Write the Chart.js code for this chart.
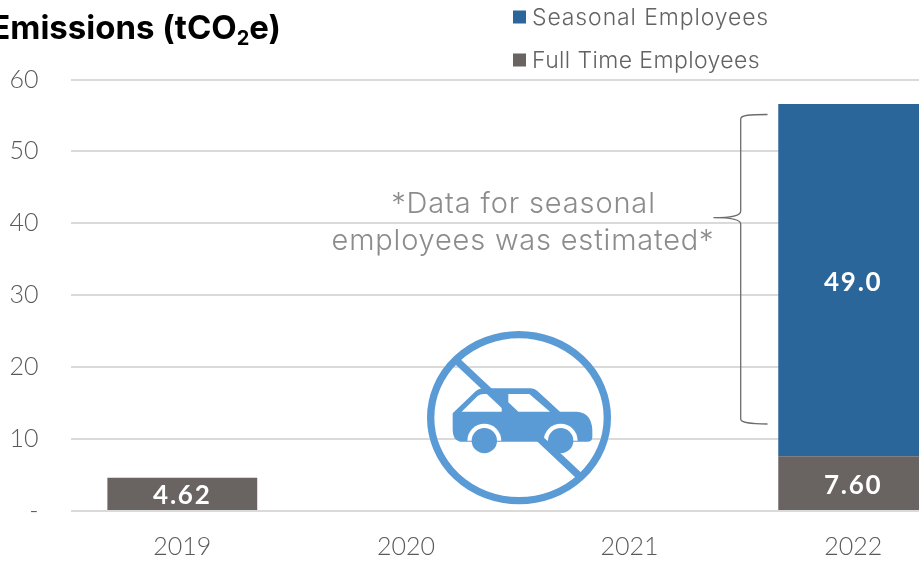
<!DOCTYPE html>
<html>
<head>
<meta charset="utf-8">
<script src="https://cdn.jsdelivr.net/npm/chart.js@4"></script>
<style>
  html, body { margin: 0; padding: 0; width: 919px; height: 562px; overflow: hidden; background: #fff; }
  canvas { display: block; }
</style>
</head>
<body>
<canvas id="chart" width="965" height="562"></canvas>
<script>
const categories = ['2019', '2020', '2021', '2022'];
const fullTimeEmployees = [4.62, null, null, 7.60];
const seasonalEmployees = [null, null, null, 49.0];
const fullTimeLabels = ['4.62', '', '', '7.60'];
const seasonalLabels = ['', '', '', '49.0'];
const yTickValues = [0, 10, 20, 30, 40, 50, 60];

const FONT = 'Lato, "Open Sans", sans-serif';
const WIDE = 'Inter, Lato, sans-serif';
const BLUE = '#2A6699';
const GREY = '#696362';
const ICON = '#5B9BD5';
const TEXT = '#595959';

function spacedText(ctx, str, x, y, font, color, spacing, align) {
  ctx.save();
  ctx.font = font;
  ctx.fillStyle = color;
  ctx.letterSpacing = (spacing || 0) + 'px';
  ctx.textAlign = align || 'left';
  ctx.textBaseline = 'middle';
  ctx.fillText(str, x, y);
  ctx.restore();
}

// Heading, cut off by the left page edge, with a lowered "2" in the unit.
function drawHeading(ctx) {
  const bold = '700 33px ' + WIDE;
  const sub = '700 20px ' + WIDE;
  const endX = 281;
  ctx.save();
  ctx.font = bold;
  const tail = ctx.measureText('e)').width;
  const head = ctx.measureText('Emissions (tCO').width;
  ctx.font = sub;
  const two = ctx.measureText('2').width;
  ctx.restore();
  const x3 = endX - tail, x2 = x3 - two, x1 = x2 - head;
  spacedText(ctx, 'Emissions (tCO', x1, 29, bold, '#000');
  spacedText(ctx, '2', x2, 39, sub, '#000');
  spacedText(ctx, 'e)', x3, 29, bold, '#000');
}

function drawLegend(chart) {
  const ctx = chart.ctx;
  const rows = [[0, 17, 0.88], [1, 60, 0.4]];
  const order = [chart.data.datasets[1], chart.data.datasets[0]];
  rows.forEach(([i, y, spacing]) => {
    ctx.fillStyle = order[i].backgroundColor;
    ctx.fillRect(513, y - 6.5, 13, 13);
    spacedText(ctx, order[i].label, 532, y + 1, '300 23px ' + WIDE, '#636363', spacing);
  });
}

function drawBrace(ctx) {
  ctx.save();
  ctx.strokeStyle = '#6E6B6B';
  ctx.lineWidth = 1.3;
  ctx.beginPath();
  ctx.moveTo(767.5, 114.5);
  ctx.bezierCurveTo(750, 114.5, 740.7, 115, 740.7, 119);
  ctx.lineTo(740.7, 211);
  ctx.bezierCurveTo(740.7, 216, 732, 217.7, 713.5, 217.7);
  ctx.bezierCurveTo(732, 217.7, 740.7, 219.5, 740.7, 224);
  ctx.lineTo(740.7, 419);
  ctx.bezierCurveTo(740.7, 423, 750, 423.8, 767.5, 424);
  ctx.stroke();
  ctx.restore();
}

// No-car pictogram; coordinates are local to its 220x200 box.
function drawNoCar(ctx) {
  ctx.save();
  ctx.translate(410, 320);
  ctx.scale(1 / 3, 1 / 3);
  ctx.fillStyle = ICON;
  ctx.strokeStyle = ICON;

  ctx.beginPath();
  ctx.moveTo(128, 280);
  ctx.lineTo(192, 218);
  ctx.quadraticCurveTo(205, 205, 222, 205);
  ctx.lineTo(360, 205);
  ctx.quadraticCurveTo(375, 205, 388, 218);
  ctx.lineTo(450, 275);
  ctx.lineTo(500, 275);
  ctx.quadraticCurveTo(545, 278, 547, 330);
  ctx.lineTo(547, 350);
  ctx.quadraticCurveTo(547, 365, 532, 365);
  ctx.lineTo(150, 365);
  ctx.quadraticCurveTo(128, 360, 128, 330);
  ctx.closePath();
  ctx.fill();

  ctx.fillStyle = '#fff';
  ctx.beginPath();
  ctx.moveTo(155, 275);
  ctx.lineTo(203, 228);
  ctx.quadraticCurveTo(210, 222, 222, 222);
  ctx.lineTo(240, 222);
  ctx.lineTo(275, 255);
  ctx.lineTo(275, 275);
  ctx.closePath();
  ctx.fill();
  ctx.beginPath();
  ctx.moveTo(295, 222);
  ctx.lineTo(358, 222);
  ctx.lineTo(420, 275);
  ctx.lineTo(325, 275);
  ctx.lineTo(295, 247);
  ctx.closePath();
  ctx.fill();

  // White arches above the wheels, then the wheels themselves.
  [[223, 362], [452, 362]].forEach(([cx, cy]) => {
    ctx.fillStyle = '#fff';
    ctx.beginPath();
    ctx.arc(cx, cy, 51, Math.PI, 2 * Math.PI);
    ctx.closePath();
    ctx.fill();
    ctx.fillStyle = ICON;
    ctx.beginPath();
    ctx.arc(cx, cy, 38, 0, 2 * Math.PI);
    ctx.fill();
  });

  ctx.lineWidth = 22;
  ctx.beginPath();
  ctx.ellipse(327, 293, 265, 249, 0, 0, 2 * Math.PI);
  ctx.stroke();
  ctx.beginPath();
  ctx.moveTo(140, 122);
  ctx.lineTo(508, 468);
  ctx.stroke();
  ctx.restore();
}

const decorations = {
  id: 'decorations',
  afterDatasetsDraw(chart) {
    const ctx = chart.ctx;
    const valueFont = 'bold 26px ' + FONT;
    [[0, fullTimeLabels], [1, seasonalLabels]].forEach(([d, labels]) => {
      chart.getDatasetMeta(d).data.forEach((bar, i) => {
        if (!labels[i]) return;
        const mid = (bar.y + bar.base) / 2 + 2;
        spacedText(ctx, labels[i], bar.x, mid, valueFont, '#fff', 1.8, 'center');
      });
    });
    drawHeading(ctx);
    drawLegend(chart);
    drawBrace(ctx);
    spacedText(ctx, '*Data for seasonal', 523.5, 204, '300 29px ' + WIDE, '#8C8C8C', 0.85, 'center');
    spacedText(ctx, 'employees was estimated*', 523, 241, '300 29px ' + WIDE, '#8C8C8C', 0.8, 'center');
    drawNoCar(ctx);
  }
};

new Chart(document.getElementById('chart'), {
  type: 'bar',
  data: {
    labels: categories,
    datasets: [
      { label: 'Full Time Employees', data: fullTimeEmployees, backgroundColor: GREY, stack: 's' },
      { label: 'Seasonal Employees', data: seasonalEmployees, backgroundColor: BLUE, stack: 's' }
    ]
  },
  plugins: [decorations],
  options: {
    responsive: false,
    animation: false,
    layout: { padding: { top: 79.5, right: 0, left: 0, bottom: 0 } },
    datasets: { bar: { categoryPercentage: 1, barPercentage: 0.67 } },
    plugins: { legend: { display: false }, title: { display: false }, tooltip: { enabled: false } },
    scales: {
      x: {
        stacked: true,
        grid: { display: false, drawTicks: false },
        border: { display: false },
        ticks: { color: TEXT, font: { family: FONT, size: 25, weight: '300' }, padding: 21, maxRotation: 0 },
        afterFit(s) { s.height = 51; }
      },
      y: {
        stacked: true,
        min: 0,
        max: 60,
        afterBuildTicks(s) { s.ticks = yTickValues.map(value => ({ value })); },
        grid: { color: '#DADADA', lineWidth: 2, drawTicks: false },
        border: { display: false },
        ticks: {
          color: TEXT,
          font: { family: FONT, size: 25, weight: '300' },
          padding: 32,
          callback: v => (v === 0 ? '-' : v)
        },
        afterFit(s) { s.width = 70.5; }
      }
    }
  }
});
</script>
</body>
</html>
